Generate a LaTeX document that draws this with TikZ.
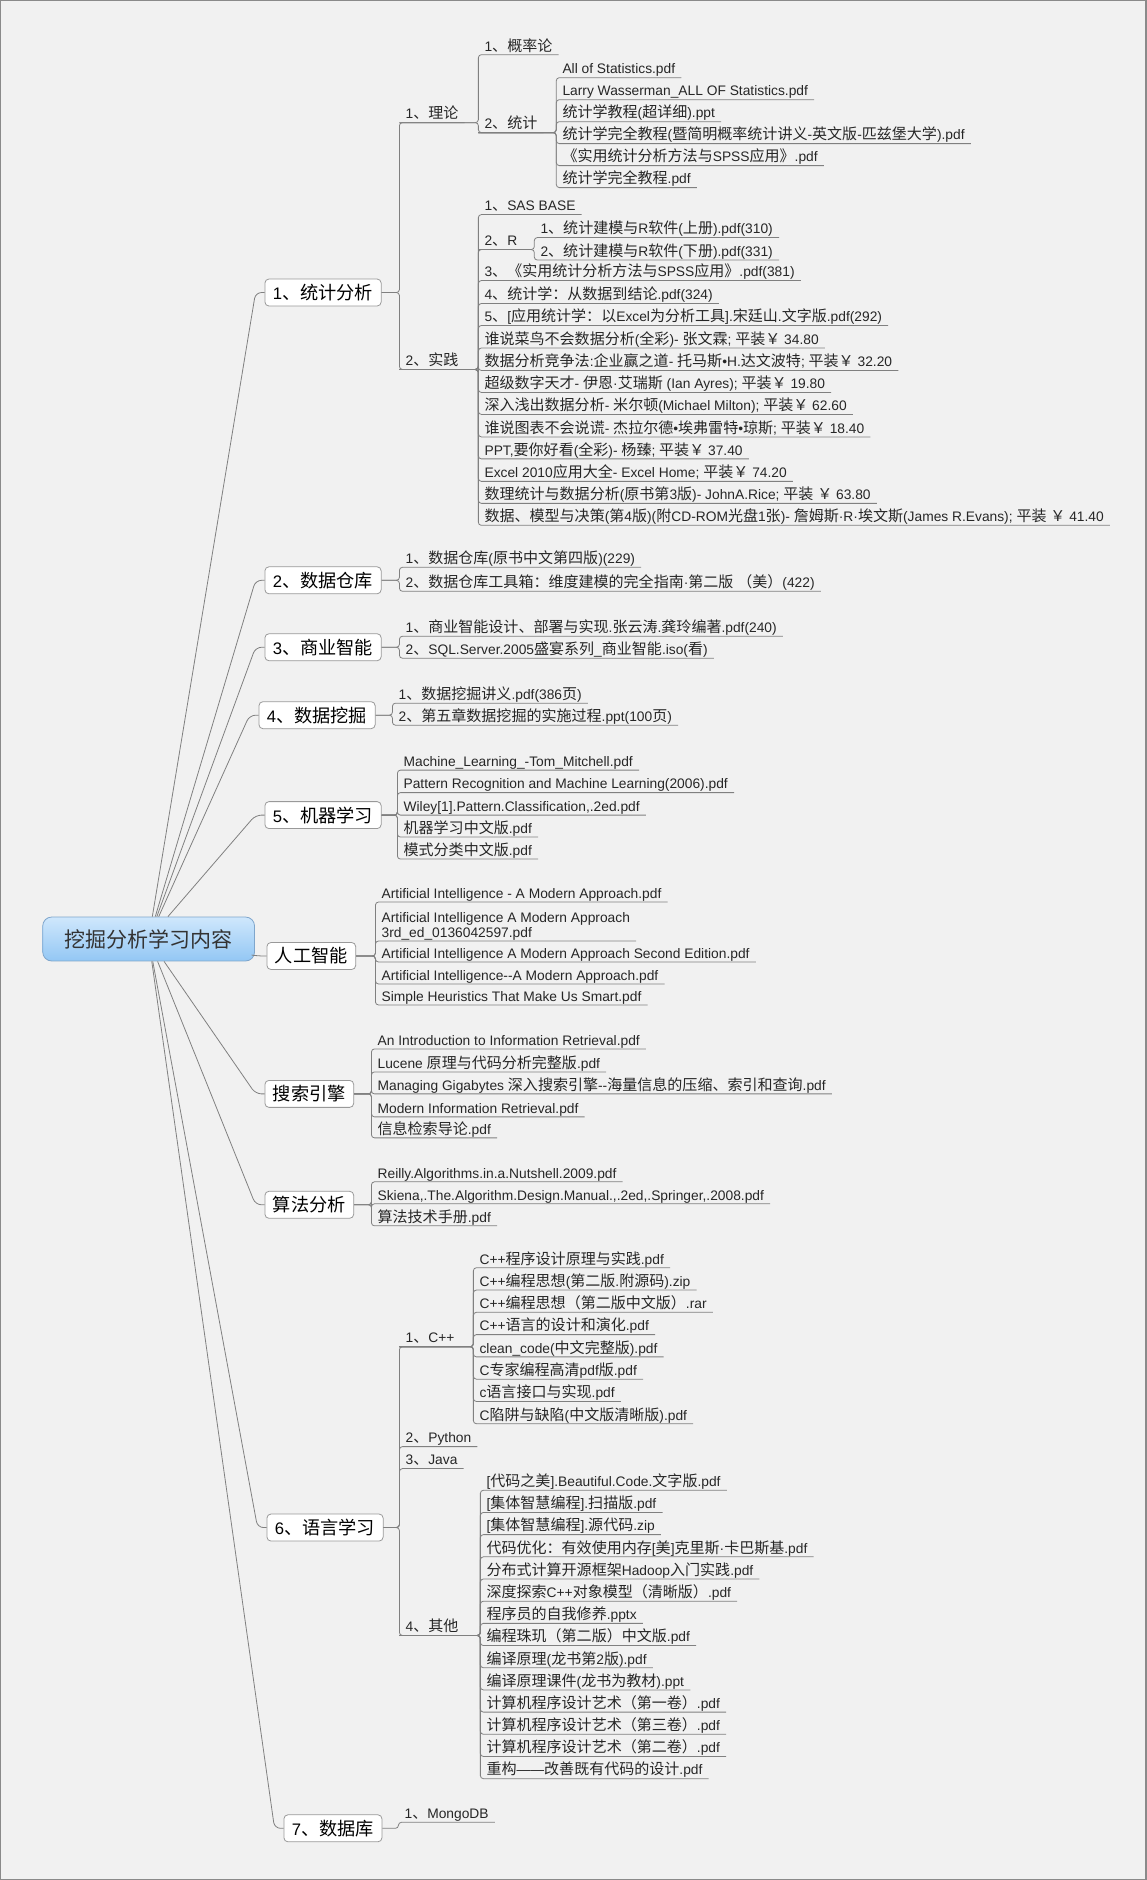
\documentclass[tikz,border=0pt]{standalone}
\usepackage{fontspec}
\setmainfont{Liberation Sans}
\newfontfamily\latinfont{Liberation Sans}
\newfontfamily\hanfont{Noto Sans CJK SC}[Scale=1.09]
\XeTeXinterchartokenstate=1
\newXeTeXintercharclass\hanclass
\newcount\hanchar
\newcommand\setcharrange[3]{\hanchar=#1\relax
  \loop\XeTeXcharclass\hanchar=#3\relax
  \ifnum\hanchar<#2\advance\hanchar by 1\repeat}
\setcharrange{"0021}{"2FFF}{0}
\setcharrange{"3000}{"303F}{\hanclass}
\setcharrange{"4E00}{"9FFF}{\hanclass}
\setcharrange{"FF00}{"FFEF}{\hanclass}
\XeTeXinterchartoks 0 \hanclass = {\hanfont}
\XeTeXinterchartoks 4095 \hanclass = {\hanfont}
\XeTeXinterchartoks \hanclass 0 = {\latinfont}
\XeTeXinterchartoks \hanclass 4095 = {\latinfont}
\usepackage{tikz}
\definecolor{paper}{HTML}{F1F1F1}
\definecolor{frame}{HTML}{8A8A8A}
\definecolor{wire}{HTML}{808080}
\definecolor{rimgray}{HTML}{999999}
\definecolor{roottop}{HTML}{CFE7FC}
\definecolor{rootbot}{HTML}{93C7F4}
\definecolor{rootrim}{HTML}{7FA6CC}

\begin{document}
\begin{tikzpicture}[x=1pt,y=-1pt,
    link/.style={draw=wire,line width=0.8pt},
    kid/.style={rounded corners=3pt,
      to path={-| (\tikztotarget.south west) -- (\tikztotarget.south east)}},
    trunk/.style={rounded corners=6pt,
      to path={-- ([xshift=-9pt]\tikztotarget.west) -- (\tikztotarget.west)}},
    rootbox/.style={draw=rootrim,line width=0.8pt,rounded corners=9pt,
      top color=roottop,bottom color=rootbot,minimum width=212pt,
      minimum height=44pt,text=black!80,font=\fontsize{19.3}{23}\selectfont},
    topic/.style={anchor=west,draw=rimgray,line width=0.8pt,fill=white,
      rounded corners=4pt,minimum height=27pt,inner xsep=8pt,
      font=\fontsize{16.7}{19}\selectfont},
    leaf/.style={anchor=south west,inner xsep=6pt,inner ysep=1.5pt,
      text depth=2pt,text=black!85,font=\fontsize{13.8}{16.5}\selectfont}]

        % Paper
        \fill[paper] (0,0) rectangle (1146,1880);
        \draw[frame,line width=1.5pt] (0,0) rectangle (1146,1880);

        % Centre and main topics
        \node[rootbox] (root) at (148,939) {挖掘分析学习内容};
        \node[topic] (b1) at (264,292) {1、统计分析};
        \node[topic] (b2) at (264,580) {2、数据仓库};
        \node[topic] (b3) at (264,647) {3、商业智能};
        \node[topic] (b4) at (258,715) {4、数据挖掘};
        \node[topic] (b5) at (264,815) {5、机器学习};
        \node[topic] (ai) at (266,956) {人工智能};
        \node[topic] (se) at (264,1094) {搜索引擎};
        \node[topic] (al) at (264,1205) {算法分析};
        \node[topic] (b6) at (266,1528) {6、语言学习};
        \node[topic] (b7) at (283,1829) {7、数据库};

        % 1 statistics
        \node[leaf] (l1) at (399,122) {1、理论};
        \node[leaf] (l2) at (399,369) {2、实践};
        \node[leaf] (l11) at (478,54) {1、概率论};
        \node[leaf] (l12) at (478,132) {2、统计};
        \node[leaf] (t1) at (556,77) {All of Statistics.pdf};
        \node[leaf] (t2) at (556,99) {Larry Wasserman\_ALL OF Statistics.pdf};
        \node[leaf] (t3) at (556,121) {统计学教程(超详细).ppt};
        \node[leaf] (t4) at (556,143) {统计学完全教程(暨简明概率统计讲义-英文版-匹兹堡大学).pdf};
        \node[leaf] (t5) at (556,165) {《实用统计分析方法与SPSS应用》.pdf};
        \node[leaf] (t6) at (556,187) {统计学完全教程.pdf};
        \node[leaf] (p1) at (478,214) {1、SAS BASE};
        \node[leaf] (p2) at (478,249) {2、R};
        \node[leaf] (r1) at (534,237) {1、统计建模与R软件(上册).pdf(310)};
        \node[leaf] (r2) at (534,259.5) {2、统计建模与R软件(下册).pdf(331)};
        \node[leaf] (p3) at (478,280) {3、《实用统计分析方法与SPSS应用》.pdf(381)};
        \node[leaf] (p4) at (478,303) {4、统计学：从数据到结论.pdf(324)};
        \node[leaf] (p5) at (478,325) {5、[应用统计学：以Excel为分析工具].宋廷山.文字版.pdf(292)};
        \node[leaf] (p6) at (478,347.5) {谁说菜鸟不会数据分析(全彩)- 张文霖; 平装￥ 34.80};
        \node[leaf] (p7) at (478,370) {数据分析竞争法:企业赢之道- 托马斯•H.达文波特; 平装￥ 32.20};
        \node[leaf] (p8) at (478,392) {超级数字天才- 伊恩·艾瑞斯 (Ian Ayres); 平装￥ 19.80};
        \node[leaf] (p9) at (478,414) {深入浅出数据分析- 米尔顿(Michael Milton); 平装￥ 62.60};
        \node[leaf] (p10) at (478,436.5) {谁说图表不会说谎- 杰拉尔德•埃弗雷特•琼斯; 平装￥ 18.40};
        \node[leaf] (p11) at (478,458.5) {PPT,要你好看(全彩)- 杨臻; 平装￥ 37.40};
        \node[leaf] (p12) at (478,481) {Excel 2010应用大全- Excel Home; 平装￥ 74.20};
        \node[leaf] (p13) at (478,503) {数理统计与数据分析(原书第3版)- JohnA.Rice; 平装 ￥ 63.80};
        \node[leaf] (p14) at (478,525) {数据、模型与决策(第4版)(附CD-ROM光盘1张)- 詹姆斯·R·埃文斯(James R.Evans); 平装 ￥ 41.40};

        % 2 to 5
        \node[leaf] (w1) at (399,567) {1、数据仓库(原书中文第四版)(229)};
        \node[leaf] (w2) at (399,591) {2、数据仓库工具箱：维度建模的完全指南·第二版 （美）(422)};
        \node[leaf] (i1) at (399,636) {1、商业智能设计、部署与实现.张云涛.龚玲编著.pdf(240)};
        \node[leaf] (i2) at (399,658) {2、SQL.Server.2005盛宴系列\_商业智能.iso(看)};
        \node[leaf] (m1) at (392,703) {1、数据挖掘讲义.pdf(386页)};
        \node[leaf] (m2) at (392,725) {2、第五章数据挖掘的实施过程.ppt(100页)};
        \node[leaf] (ml1) at (397,770) {Machine\_Learning\_-Tom\_Mitchell.pdf};
        \node[leaf] (ml2) at (397,792.5) {Pattern Recognition and Machine Learning(2006).pdf};
        \node[leaf] (ml3) at (397,815) {Wiley[1].Pattern.Classification,.2ed.pdf};
        \node[leaf] (ml4) at (397,837) {机器学习中文版.pdf};
        \node[leaf] (ml5) at (397,859) {模式分类中文版.pdf};

        % AI, search, algorithms
        \node[leaf] (a1) at (375,902) {Artificial Intelligence - A Modern Approach.pdf};
        \node[leaf] (a2) at (375,941) {\begin{tabular}[b]{@{}l@{}}Artificial Intelligence A Modern Approach\\[-1.5pt]3rd\_ed\_0136042597.pdf\end{tabular}};
        \node[leaf] (a3) at (375,962) {Artificial Intelligence A Modern Approach Second Edition.pdf};
        \node[leaf] (a4) at (375,984) {Artificial Intelligence-{}-A Modern Approach.pdf};
        \node[leaf] (a5) at (375,1005) {Simple Heuristics That Make Us Smart.pdf};
        \node[leaf] (s1) at (371,1049) {An Introduction to Information Retrieval.pdf};
        \node[leaf] (s2) at (371,1072) {Lucene 原理与代码分析完整版.pdf};
        \node[leaf] (s3) at (371,1094) {Managing Gigabytes 深入搜索引擎-{}-海量信息的压缩、索引和查询.pdf};
        \node[leaf] (s4) at (371,1117) {Modern Information Retrieval.pdf};
        \node[leaf] (s5) at (371,1138) {信息检索导论.pdf};
        \node[leaf] (g1) at (371,1182) {Reilly.Algorithms.in.a.Nutshell.2009.pdf};
        \node[leaf] (g2) at (371,1204) {Skiena,.The.Algorithm.Design.Manual.,.2ed,.Springer,.2008.pdf};
        \node[leaf] (g3) at (371,1226) {算法技术手册.pdf};

        % 6 languages
        \node[leaf] (cp) at (399,1347) {1、C++};
        \node[leaf] (py) at (399,1447) {2、Python};
        \node[leaf] (jv) at (399,1469) {3、Java};
        \node[leaf] (ot) at (399,1636) {4、其他};
        \node[leaf] (c1) at (473,1268) {C++程序设计原理与实践.pdf};
        \node[leaf] (c2) at (473,1290.3) {C++编程思想(第二版.附源码).zip};
        \node[leaf] (c3) at (473,1312.6) {C++编程思想（第二版中文版）.rar};
        \node[leaf] (c4) at (473,1334.9) {C++语言的设计和演化.pdf};
        \node[leaf] (c5) at (473,1357.2) {clean\_code(中文完整版).pdf};
        \node[leaf] (c6) at (473,1379.5) {C专家编程高清pdf版.pdf};
        \node[leaf] (c7) at (473,1401.8) {c语言接口与实现.pdf};
        \node[leaf] (c8) at (473,1424.1) {C陷阱与缺陷(中文版清晰版).pdf};
        \node[leaf] (o1) at (480,1490.7) {[代码之美].Beautiful.Code.文字版.pdf};
        \node[leaf] (o2) at (480,1512.9) {[集体智慧编程].扫描版.pdf};
        \node[leaf] (o3) at (480,1535.1) {[集体智慧编程].源代码.zip};
        \node[leaf] (o4) at (480,1557.3) {代码优化：有效使用内存[美]克里斯·卡巴斯基.pdf};
        \node[leaf] (o5) at (480,1579.5) {分布式计算开源框架Hadoop入门实践.pdf};
        \node[leaf] (o6) at (480,1601.7) {深度探索C++对象模型（清晰版）.pdf};
        \node[leaf] (o7) at (480,1623.9) {程序员的自我修养.pptx};
        \node[leaf] (o8) at (480,1646.1) {编程珠玑（第二版）中文版.pdf};
        \node[leaf] (o9) at (480,1668.3) {编译原理(龙书第2版).pdf};
        \node[leaf] (o10) at (480,1690.5) {编译原理课件(龙书为教材).ppt};
        \node[leaf] (o11) at (480,1712.7) {计算机程序设计艺术（第一卷）.pdf};
        \node[leaf] (o12) at (480,1734.9) {计算机程序设计艺术（第三卷）.pdf};
        \node[leaf] (o13) at (480,1757.1) {计算机程序设计艺术（第二卷）.pdf};
        \node[leaf] (o14) at (480,1779.3) {重构——改善既有代码的设计.pdf};

        % 7 databases
        \node[leaf] (db1) at (398,1823) {1、MongoDB};

        % Connectors
        \draw[link] (root) edge[trunk] (b1) edge[trunk] (b2) edge[trunk] (b3)
          edge[trunk] (b4) edge[trunk] (b5) edge[trunk] (ai) edge[trunk] (se)
          edge[trunk] (al) edge[trunk] (b6) edge[trunk] (b7);
        \draw[link] (b1.east) edge[kid] (l1) edge[kid] (l2);
        \draw[link] (l1.south west) edge[kid] (l11) edge[kid] (l12);
        \draw[link] (l12.south west) edge[kid] (t1) edge[kid] (t2) edge[kid] (t3)
          edge[kid] (t4) edge[kid] (t5) edge[kid] (t6);
        \draw[link] (l2.south west) edge[kid] (p1) edge[kid] (p2) edge[kid] (p3)
          edge[kid] (p4) edge[kid] (p5) edge[kid] (p6) edge[kid] (p7)
          edge[kid] (p8) edge[kid] (p9) edge[kid] (p10) edge[kid] (p11)
          edge[kid] (p12) edge[kid] (p13) edge[kid] (p14);
        \draw[link] (p2.south west) edge[kid] (r1) edge[kid] (r2);
        \draw[link] (b2.east) edge[kid] (w1) edge[kid] (w2);
        \draw[link] (b3.east) edge[kid] (i1) edge[kid] (i2);
        \draw[link] (b4.east) edge[kid] (m1) edge[kid] (m2);
        \draw[link] (b5.east) edge[kid] (ml1) edge[kid] (ml2) edge[kid] (ml3)
          edge[kid] (ml4) edge[kid] (ml5);
        \draw[link] (ai.east) edge[kid] (a1) edge[kid] (a2) edge[kid] (a3)
          edge[kid] (a4) edge[kid] (a5);
        \draw[link] (se.east) edge[kid] (s1) edge[kid] (s2) edge[kid] (s3)
          edge[kid] (s4) edge[kid] (s5);
        \draw[link] (al.east) edge[kid] (g1) edge[kid] (g2) edge[kid] (g3);
        \draw[link] (b6.east) edge[kid] (cp) edge[kid] (py) edge[kid] (jv)
          edge[kid] (ot);
        \draw[link] (cp.south west) edge[kid] (c1) edge[kid] (c2) edge[kid] (c3)
          edge[kid] (c4) edge[kid] (c5) edge[kid] (c6) edge[kid] (c7)
          edge[kid] (c8);
        \draw[link] (ot.south west) edge[kid] (o1) edge[kid] (o2) edge[kid] (o3)
          edge[kid] (o4) edge[kid] (o5) edge[kid] (o6) edge[kid] (o7)
          edge[kid] (o8) edge[kid] (o9) edge[kid] (o10) edge[kid] (o11)
          edge[kid] (o12) edge[kid] (o13) edge[kid] (o14);
        \draw[link] (b7.east) edge[kid] (db1);
    \end{tikzpicture}
\end{document}
